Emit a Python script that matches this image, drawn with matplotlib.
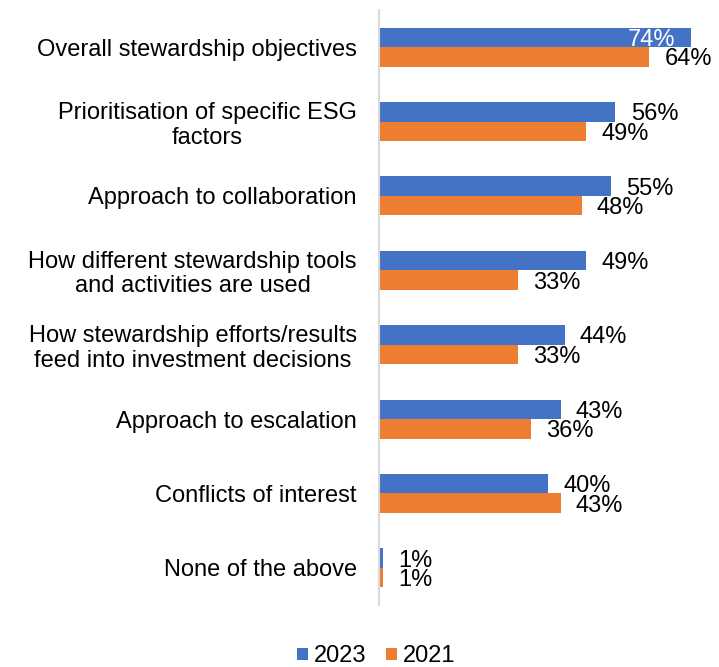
import numpy as np
import matplotlib.pyplot as plt

plt.rcParams["font.family"] = ["Liberation Sans", "DejaVu Sans"]

categories = [
    "Overall stewardship objectives",
    "Prioritisation of specific ESG\nfactors",
    "Approach to collaboration",
    "How different stewardship tools\nand activities are used",
    "How stewardship efforts/results\nfeed into investment decisions",
    "Approach to escalation",
    "Conflicts of interest",
    "None of the above",
]
values_2023 = [74, 56, 55, 49, 44, 43, 40, 1]
values_2021 = [64, 49, 48, 33, 33, 36, 43, 1]

BLUE = "#4472C4"
ORANGE = "#ED7D31"
FS = 17

fig = plt.figure(figsize=(7.19, 6.67), dpi=100)
ax = fig.add_axes([0.527, 0.093, 0.47, 0.892])

y = np.arange(len(categories))
h = 0.262
bars23 = ax.barh(y - h / 2, values_2023, height=h, color=BLUE, label="2023")
bars21 = ax.barh(y + h / 2, values_2021, height=h, color=ORANGE, label="2021")

ax.set_xlim(0, 80)
ax.set_ylim(len(categories) - 0.5, -0.5)

# value labels: outside the bar end, except the longest one which goes inside
for bars, vals in ((bars23, values_2023), (bars21, values_2021)):
    for b, v in zip(bars, vals):
        cy = b.get_y() + b.get_height() / 2
        if v >= 70:
            ax.text(v - 3.8, cy, f"{v}%", ha="right", va="center_baseline",
                    fontsize=FS, color="white")
        else:
            ax.text(v + 3.6, cy, f"{v}%", ha="left", va="center_baseline",
                    fontsize=FS, color="black")

ax.set_yticks(y)
ax.set_yticklabels(categories, fontsize=FS, multialignment="center",
                   linespacing=1.15)
ax.tick_params(axis="y", length=0, pad=16)
ax.set_xticks([])
for s in ("top", "right", "bottom"):
    ax.spines[s].set_visible(False)
ax.spines["left"].set_color("#D9D9D9")
ax.spines["left"].set_linewidth(1.5)

fig.legend(handles=[bars23, bars21], labels=["2023", "2021"],
           loc="center", bbox_to_anchor=(0.523, 0.016), ncol=2, frameon=False,
           fontsize=FS, handlelength=0.45, handleheight=0.45,
           handletextpad=0.25, columnspacing=0.85)

fig.savefig("out.png", dpi=100)
